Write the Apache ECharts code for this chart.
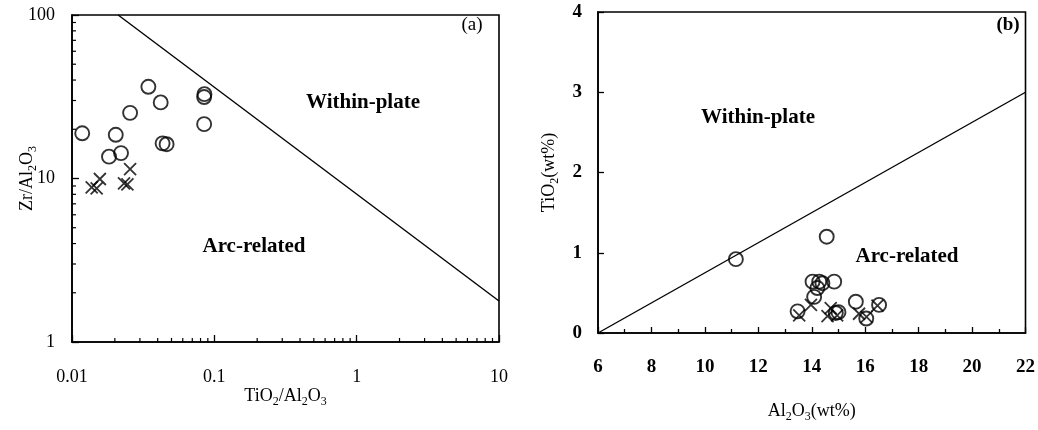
<!DOCTYPE html>
<html><head><meta charset="utf-8">
<script src="https://cdn.jsdelivr.net/npm/echarts@6/dist/echarts.min.js"></script>
<style>html,body{margin:0;padding:0;background:#fff}#c{width:1038px;height:430px}</style>
</head><body><div id="c"></div>
<script>
// ---- Panel (a): TiO2/Al2O3 vs Zr/Al2O3 (log-log) ----
const circlesA = [[0.0118,18.9],[0.0344,36.4],[0.0420,29.2],[0.0256,25.2],[0.0848,31.5],[0.0852,32.8],
  [0.0848,21.5],[0.0203,18.5],[0.0433,16.4],[0.0462,16.2],[0.0182,13.6],[0.0221,14.3]];
const crossesA = [[0.01375,8.83],[0.0149,8.71],[0.0157,9.93],[0.0232,9.35],[0.0245,9.21],[0.0256,11.4]];
const boundaryA = [[0.0211,100],[10,1.78]];
const minorTicksXA = [0.02,0.03,0.04,0.05,0.06,0.07,0.08,0.09,0.2,0.3,0.4,0.5,0.6,0.7,0.8,0.9,2,3,4,5,6,7,8,9];
const minorTicksYA = [2,3,4,5,6,7,8,9,20,30,40,50,60,70,80,90];

// ---- Panel (b): Al2O3 vs TiO2 ----
const circlesB = [[11.16,0.92],[14.56,1.20],[14.03,0.64],[14.28,0.64],[14.40,0.62],[14.84,0.64],[14.21,0.56],
  [14.09,0.45],[13.47,0.27],[14.90,0.25],[15.0,0.26],[15.65,0.39],[16.04,0.18],[16.52,0.35]];
const crossesB = [[13.53,0.22],[13.97,0.35],[14.71,0.31],[14.59,0.21],[15.77,0.24],[16.05,0.20],[16.46,0.34],[14.95,0.22]];
const boundaryB = [[6,0],[22,3]];

const FONT = 'Liberation Serif';
const crossPath = 'path://M0 0L10 10M10 0L0 10';
const txtA = {fontFamily: FONT, fontSize: 18, color: '#000'};
const txtB = {fontFamily: FONT, fontSize: 19, fontWeight: 'bold', color: '#000'};
const rich = {
  n: {fontFamily: FONT, fontSize: 18, color: '#000', lineHeight: 24},
  s: {fontFamily: FONT, fontSize: 12, color: '#000', verticalAlign: 'bottom', lineHeight: 24}
};
const axLine = {show: true, lineStyle: {color: '#000', width: 1.6}};
const tickStyle = {color: '#000', width: 1.3};

function minorTickSeries(values, axis, xi, len) {
  return {
    type: 'custom', xAxisIndex: xi, yAxisIndex: xi, silent: true, clip: false,
    data: values.map(v => [v]),
    renderItem: function (params, api) {
      const v = api.value(0);
      let p, q;
      if (axis === 'x') {
        p = api.coord([v, 1]);
        q = [p[0], p[1] - len];
      } else {
        p = api.coord([0.01, v]);
        q = [p[0] + len, p[1]];
      }
      return {type: 'line', shape: {x1: p[0], y1: p[1], x2: q[0], y2: q[1]}, style: {stroke: '#000', lineWidth: 1.2}};
    }
  };
}

const chart = echarts.init(document.getElementById('c'));
chart.setOption({
  animation: false,
  backgroundColor: '#fff',
  grid: [
    {left: 72, top: 15, width: 427, height: 327, show: true, borderColor: '#000', borderWidth: 1.6},
    {left: 598, top: 12, width: 429, height: 321, show: true, borderColor: '#000', borderWidth: 1.6}
  ],
  xAxis: [
    {type: 'log', gridIndex: 0, min: 0.01, max: 10, logBase: 10,
     name: '{n|TiO}{s|2}{n|/Al}{s|2}{n|O}{s|3}', nameLocation: 'middle', nameGap: 42, nameMoveOverlap: false,
     nameTextStyle: {rich: rich},
     axisLine: axLine, axisTick: {show: true, inside: true, length: 7, lineStyle: tickStyle},
     axisLabel: Object.assign({margin: 26, formatter: v => String(v)}, txtA), splitLine: {show: false}},
    {type: 'value', gridIndex: 1, min: 6, max: 22, interval: 2,
     name: '{n|Al}{s|2}{n|O}{s|3}{n|(wt%)}', nameLocation: 'middle', nameGap: 66, nameMoveOverlap: false,
     nameTextStyle: {rich: rich},
     axisLine: axLine, axisTick: {show: true, inside: true, length: 6, lineStyle: tickStyle},
     minorTick: {show: true, splitNumber: 2, length: 4, lineStyle: tickStyle},
     axisLabel: Object.assign({margin: 25}, txtB), splitLine: {show: false}}
  ],
  yAxis: [
    {type: 'log', gridIndex: 0, min: 1, max: 100, logBase: 10,
     name: '{n|Zr/Al}{s|2}{n|O}{s|3}', nameLocation: 'middle', nameGap: 33, nameMoveOverlap: false,
     nameTextStyle: {rich: rich},
     axisLine: axLine, axisTick: {show: true, inside: true, length: 7, lineStyle: tickStyle},
     axisLabel: Object.assign({margin: 17}, txtA), splitLine: {show: false}},
    {type: 'value', gridIndex: 1, min: 0, max: 4, interval: 1,
     name: '{n|TiO}{s|2}{n|(wt%)}', nameLocation: 'middle', nameGap: 37, nameMoveOverlap: false,
     nameTextStyle: {rich: rich},
     axisLine: axLine, axisTick: {show: true, inside: true, length: 6, lineStyle: tickStyle},
     axisLabel: Object.assign({margin: 16}, txtB), splitLine: {show: false}}
  ],
  series: [
    minorTickSeries(minorTicksXA, 'x', 0, 4),
    minorTickSeries(minorTicksYA, 'y', 0, 4),
    {type: 'line', xAxisIndex: 0, yAxisIndex: 0, data: boundaryA, symbol: 'none',
     lineStyle: {color: '#000', width: 1.4}},
    {type: 'scatter', xAxisIndex: 0, yAxisIndex: 0, data: circlesA, symbol: 'circle', symbolSize: 14,
     itemStyle: {color: 'none', borderColor: '#000', borderWidth: 1.9}},
    {type: 'scatter', xAxisIndex: 0, yAxisIndex: 0, data: crossesA, symbol: crossPath, symbolSize: 12,
     itemStyle: {color: 'none', borderColor: '#000', borderWidth: 1.8}},
    {type: 'line', xAxisIndex: 1, yAxisIndex: 1, data: boundaryB, symbol: 'none',
     lineStyle: {color: '#000', width: 1.4}},
    {type: 'scatter', xAxisIndex: 1, yAxisIndex: 1, data: circlesB, symbol: 'circle', symbolSize: 14,
     itemStyle: {color: 'none', borderColor: '#000', borderWidth: 1.9}},
    {type: 'scatter', xAxisIndex: 1, yAxisIndex: 1, data: crossesB, symbol: crossPath, symbolSize: 12,
     itemStyle: {color: 'none', borderColor: '#000', borderWidth: 1.8}}
  ],
  graphic: [
    {type: 'text', x: 363, y: 103, style: {text: 'Within-plate', font: 'bold 21px "Liberation Serif"', fill: '#000', align: 'center', verticalAlign: 'middle'}},
    {type: 'text', x: 254, y: 247, style: {text: 'Arc-related', font: 'bold 21px "Liberation Serif"', fill: '#000', align: 'center', verticalAlign: 'middle'}},
    {type: 'text', x: 472, y: 25, style: {text: '(a)', font: '19px "Liberation Serif"', fill: '#000', align: 'center', verticalAlign: 'middle'}},
    {type: 'text', x: 758, y: 118, style: {text: 'Within-plate', font: 'bold 21px "Liberation Serif"', fill: '#000', align: 'center', verticalAlign: 'middle'}},
    {type: 'text', x: 907, y: 257, style: {text: 'Arc-related', font: 'bold 21px "Liberation Serif"', fill: '#000', align: 'center', verticalAlign: 'middle'}},
    {type: 'text', x: 1008, y: 25, style: {text: '(b)', font: 'bold 19px "Liberation Serif"', fill: '#000', align: 'center', verticalAlign: 'middle'}}
  ]
});
</script>
</body></html>
